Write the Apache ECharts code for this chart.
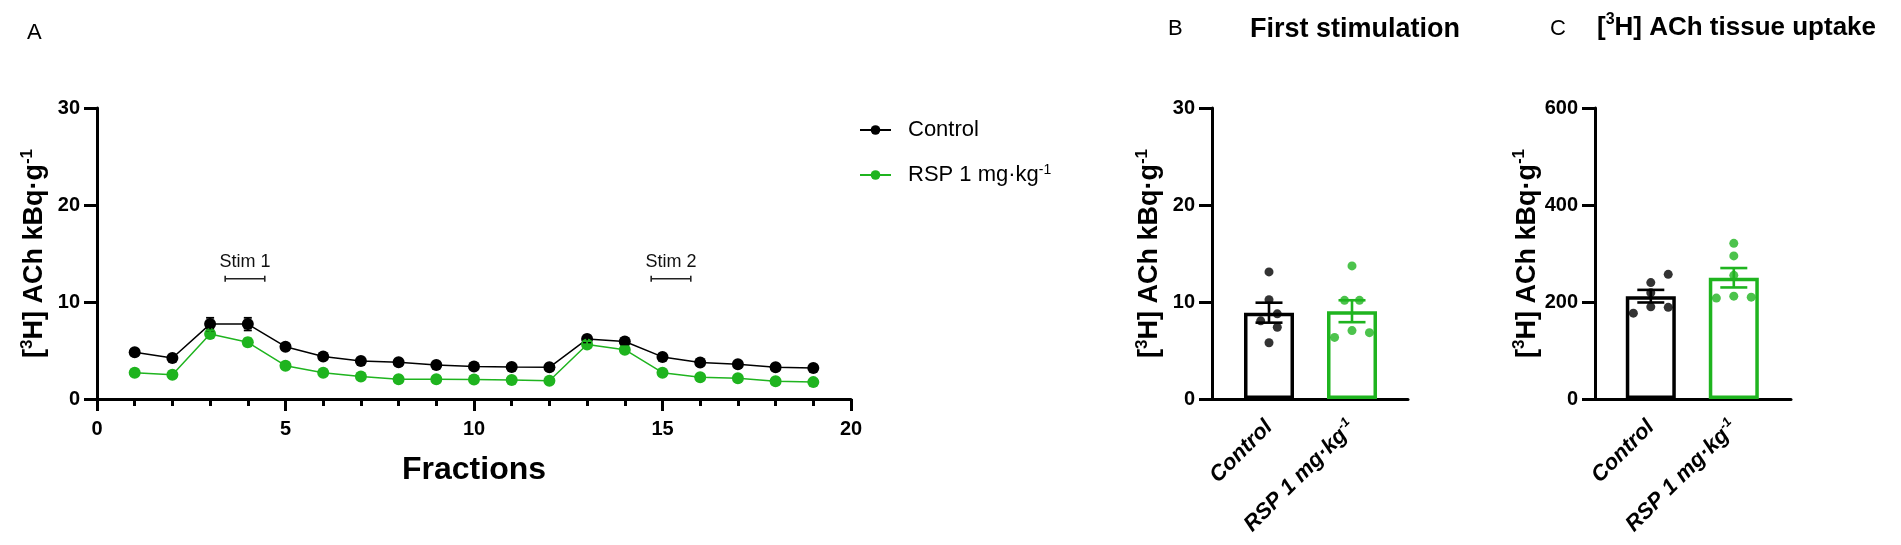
<!DOCTYPE html>
<html>
<head>
<meta charset="utf-8">
<script src="https://cdn.jsdelivr.net/npm/echarts@6/dist/echarts.min.js"></script>
<style>
html,body{margin:0;padding:0;background:#fff;}
#chart{width:1901px;height:545px;}
</style>
</head>
<body>
<div id="chart"></div>
<script>
// ---------- DATA ----------
var fractions = [1,2,3,4,5,6,7,8,9,10,11,12,13,14,15,16,17,18,19];
var controlA = [4.81,4.22,7.72,7.72,5.39,4.39,3.91,3.78,3.50,3.34,3.30,3.27,6.18,5.93,4.34,3.77,3.59,3.27,3.19];
var controlASem = [0.3,0.3,0.65,0.65,0.3,0.3,0.3,0.3,0.3,0.3,0.3,0.3,0.35,0.35,0.3,0.3,0.3,0.3,0.3];
var rspA = [2.71,2.51,6.69,5.84,3.43,2.71,2.33,2.03,2.03,2.02,1.95,1.88,5.62,5.08,2.71,2.24,2.13,1.84,1.74];
var rspASem = [0.3,0.3,0.4,0.4,0.3,0.3,0.3,0.3,0.3,0.3,0.3,0.3,0.35,0.35,0.3,0.3,0.3,0.3,0.3];
var stimStart = [3.4, 14.7];
var stimEnd = [4.45, 15.75];
var stimLevel = [12.4, 12.4];
var stimLabels = ['Stim 1', 'Stim 2'];
var xTicksA = {min:0, max:20, interval:5};
var yTicksA = {min:0, max:30, interval:10};
var groups = ['Control', 'RSP 1 mg·kg-1'];

// B: first stimulation
var bMean = [8.9, 9.05];
var bSem = [1.03, 1.13];
var bControlDots = [13.1, 10.24, 8.06, 8.78, 7.4, 5.8];
var bRspDots = [13.72, 10.17, 10.17, 6.35, 7.05, 6.84];
// C: tissue uptake
var cMean = [212, 250];
var cSem = [13, 20];
var cControlDots = [257, 240, 219, 177, 190, 189];
var cRspDots = [321, 295, 255, 208, 212, 210];
var yTicksC = {min:0, max:600, interval:200};

// horizontal arrangement of the dots inside each bar (category-band units)
var bControlSpread = [0, 0, -0.1, 0.1, 0.1, 0];
var bRspSpread = [0, -0.09, 0.09, -0.21, 0, 0.21];
var cControlSpread = [0.21, 0, 0, -0.21, 0, 0.21];
var cRspSpread = [0, 0, 0, -0.21, 0, 0.21];

// ---------- STYLE ----------
var FONT = 'Liberation Sans, Arial, Helvetica, sans-serif';
var BLACK = '#000000';
var GREEN = '#1fb41f';
var groupColors = [BLACK, GREEN];

var sup = {
  t:{fontSize:27, fontWeight:'bold', fontFamily:FONT, color:BLACK, lineHeight:32},
  s:{fontSize:17, fontWeight:'bold', fontFamily:FONT, color:BLACK, verticalAlign:'top', lineHeight:17}
};
var supTitle = {
  t:{fontSize:26, fontWeight:'bold', fontFamily:FONT, color:BLACK, lineHeight:31},
  s:{fontSize:16, fontWeight:'bold', fontFamily:FONT, color:BLACK, verticalAlign:'top', lineHeight:16}
};
var yName = '{t|[}{s|3}{t|H] ACh kBq·g}{s|-1}';

function catLabel(v){
  if (v.indexOf('-1') > 0) return '{t|' + v.replace('-1','') + '}{s|-1}';
  return '{t|' + v + '}';
}

var chart = echarts.init(document.getElementById('chart'), null, {renderer:'canvas'});

function valueYAxis(grid, ticks, showName){
  return {
    type:'value', gridIndex:grid, min:ticks.min, max:ticks.max, interval:ticks.interval,
    axisLine:{show:true, lineStyle:{color:BLACK, width:3}},
    axisTick:{show:true, length:13, lineStyle:{color:BLACK, width:3}},
    axisLabel:{show:true, margin:17, fontSize:20, fontWeight:'bold', fontFamily:FONT, color:BLACK},
    splitLine:{show:false},
    name: showName ? yName : '', nameLocation:'middle', nameGap:46, nameRotate:90,
    nameTextStyle:{rich:sup}
  };
}
function hiddenYAxis(grid, ticks){
  return {type:'value', gridIndex:grid, min:ticks.min, max:ticks.max, show:false};
}
function frameXAxis(grid){
  return {type:'value', gridIndex:grid, min:0, max:1, axisLine:{show:true, onZero:false, lineStyle:{color:BLACK, width:3}},
          axisTick:{show:false}, axisLabel:{show:false}, splitLine:{show:false}};
}
function catXAxis(grid){
  return {type:'category', gridIndex:grid, data:groups,
    axisLine:{show:false}, axisTick:{show:false}, splitLine:{show:false},
    axisLabel:{rotate:45, margin:25, interval:0, formatter:catLabel,
      rich:{
        t:{fontSize:22, fontWeight:'bold', fontStyle:'italic', fontFamily:FONT, color:BLACK, lineHeight:25},
        s:{fontSize:13, fontWeight:'bold', fontStyle:'italic', fontFamily:FONT, color:BLACK, verticalAlign:'top', lineHeight:13}
      }}
  };
}
function dotXAxis(grid){
  return {type:'value', gridIndex:grid, min:-0.5, max:1.5, show:false};
}

function errRender(cap, lw){
  return function(params, api){
    var x = api.value(0), y = api.value(1), e = api.value(2);
    var top = api.coord([x, y + e]);
    var bot = api.coord([x, y - e]);
    var c = api.visual('color');
    var st = {stroke:c, lineWidth:lw};
    return {type:'group', children:[
      {type:'line', shape:{x1:top[0], y1:top[1], x2:bot[0], y2:bot[1]}, style:st},
      {type:'line', shape:{x1:top[0]-cap/2, y1:top[1], x2:top[0]+cap/2, y2:top[1]}, style:st},
      {type:'line', shape:{x1:bot[0]-cap/2, y1:bot[1], x2:bot[0]+cap/2, y2:bot[1]}, style:st}
    ]};
  };
}

function dots(values, spread, idx){
  return values.map(function(v,i){ return {value:[idx + spread[i], v], itemStyle:{color:groupColors[idx]}}; });
}

var stimData = stimStart.map(function(s,i){ return [s, stimEnd[i], stimLevel[i], i]; });

var option = {
  animation:false,
  backgroundColor:'#ffffff',
  textStyle:{fontFamily:FONT},
  title:[
    {text:'A', left:22, top:17, textStyle:{fontSize:22, fontWeight:'normal', color:BLACK, fontFamily:FONT}},
    {text:'B', left:1163, top:13, textStyle:{fontSize:22, fontWeight:'normal', color:BLACK, fontFamily:FONT}},
    {text:'First stimulation', left:1245, top:11, textStyle:{fontSize:27, fontWeight:'bold', color:BLACK, fontFamily:FONT}},
    {text:'C', left:1545, top:13, textStyle:{fontSize:22, fontWeight:'normal', color:BLACK, fontFamily:FONT}},
    {text:'{t|[}{s|3}{t|H] ACh tissue uptake}', left:1592, top:7, textStyle:{rich:supTitle}}
  ],
  legend:{
    show:true, orient:'vertical', left:854, top:114, itemWidth:31, itemHeight:12, itemGap:22,
    data:['Control','RSP 1 mg·kg-1'],
    formatter:function(n){ return n.indexOf('-1')>0 ? '{t|RSP 1 mg·kg}{s|-1}' : '{t|Control}'; },
    textStyle:{padding:[0,0,0,12], rich:{
      t:{fontSize:22, fontFamily:FONT, color:BLACK, lineHeight:24},
      s:{fontSize:14, fontFamily:FONT, color:BLACK, verticalAlign:'top', lineHeight:14}
    }}
  },
  grid:[
    {left:97, top:108, width:754, height:291},
    {left:1212, top:108, width:196, height:291},
    {left:1227.5, top:108, width:166, height:291},
    {left:1595, top:108, width:196, height:291},
    {left:1609.3, top:108, width:166, height:291}
  ],
  xAxis:[
    {type:'value', gridIndex:0, min:xTicksA.min, max:xTicksA.max, interval:xTicksA.interval,
      axisLine:{show:true, onZero:false, lineStyle:{color:BLACK, width:3}},
      axisTick:{show:true, length:12, lineStyle:{color:BLACK, width:3}},
      minorTick:{show:true, splitNumber:5, length:7, lineStyle:{color:BLACK, width:3}},
      axisLabel:{margin:20, fontSize:20, fontWeight:'bold', fontFamily:FONT, color:BLACK},
      splitLine:{show:false},
      name:'Fractions', nameLocation:'middle', nameGap:55,
      nameTextStyle:{fontSize:32, fontWeight:'bold', fontFamily:FONT, color:BLACK}},
    frameXAxis(1),
    catXAxis(2),
    dotXAxis(2),
    frameXAxis(3),
    catXAxis(4),
    dotXAxis(4)
  ],
  yAxis:[
    valueYAxis(0, yTicksA, true),
    valueYAxis(1, yTicksA, true),
    hiddenYAxis(2, yTicksA),
    valueYAxis(3, yTicksC, true),
    hiddenYAxis(4, yTicksC)
  ],
  series:[
    {name:'Control', type:'line', xAxisIndex:0, yAxisIndex:0, z:3,
      data:fractions.map(function(f,i){return [f, controlA[i]];}),
      symbol:'circle', symbolSize:12, itemStyle:{color:BLACK}, lineStyle:{color:BLACK, width:1.5}},
    {name:'RSP 1 mg·kg-1', type:'line', xAxisIndex:0, yAxisIndex:0, z:3,
      data:fractions.map(function(f,i){return [f, rspA[i]];}),
      symbol:'circle', symbolSize:12, itemStyle:{color:GREEN}, lineStyle:{color:GREEN, width:1.5}},
    {name:'errA', type:'custom', xAxisIndex:0, yAxisIndex:0, z:4,
      renderItem:errRender(8, 1.8),
      data:fractions.map(function(f,i){return {value:[f, controlA[i], controlASem[i]], itemStyle:{color:BLACK}};})
        .concat(fractions.map(function(f,i){return {value:[f, rspA[i], rspASem[i]], itemStyle:{color:GREEN}};}))},
    {name:'stim', type:'custom', xAxisIndex:0, yAxisIndex:0, z:5,
      renderItem:function(params, api){
        var p1 = api.coord([api.value(0), api.value(2)]);
        var p2 = api.coord([api.value(1), api.value(2)]);
        var st = {stroke:'#222', lineWidth:1.6};
        return {type:'group', children:[
          {type:'line', shape:{x1:p1[0], y1:p1[1], x2:p2[0], y2:p2[1]}, style:st},
          {type:'line', shape:{x1:p1[0], y1:p1[1]-3, x2:p1[0], y2:p1[1]+3}, style:st},
          {type:'line', shape:{x1:p2[0], y1:p2[1]-3, x2:p2[0], y2:p2[1]+3}, style:st},
          {type:'text', style:{x:(p1[0]+p2[0])/2, y:p1[1]-17, text:stimLabels[api.value(3)],
            fill:'#111', fontSize:18, fontFamily:FONT, align:'center', verticalAlign:'middle'}}
        ]};
      },
      data:stimData},
    // B
    {name:'barB', type:'bar', xAxisIndex:2, yAxisIndex:2, barWidth:50, z:2,
      data:bMean.map(function(v,i){return {value:v, itemStyle:{color:'rgba(255,255,255,0)', borderColor:groupColors[i], borderWidth:3.5}};})},
    {name:'dotsB', type:'scatter', xAxisIndex:3, yAxisIndex:2, symbolSize:9, z:3,
      data:dots(bControlDots, bControlSpread, 0).concat(dots(bRspDots, bRspSpread, 1))},
    {name:'errB', type:'custom', xAxisIndex:3, yAxisIndex:2, z:4, renderItem:errRender(27, 2.6),
      data:bMean.map(function(v,i){return {value:[i, v, bSem[i]], itemStyle:{color:groupColors[i]}};})},
    // C
    {name:'barC', type:'bar', xAxisIndex:5, yAxisIndex:4, barWidth:50, z:2,
      data:cMean.map(function(v,i){return {value:v, itemStyle:{color:'rgba(255,255,255,0)', borderColor:groupColors[i], borderWidth:3.5}};})},
    {name:'dotsC', type:'scatter', xAxisIndex:6, yAxisIndex:4, symbolSize:9, z:3,
      data:dots(cControlDots, cControlSpread, 0).concat(dots(cRspDots, cRspSpread, 1))},
    {name:'errC', type:'custom', xAxisIndex:6, yAxisIndex:4, z:4, renderItem:errRender(27, 2.6),
      data:cMean.map(function(v,i){return {value:[i, v, cSem[i]], itemStyle:{color:groupColors[i]}};})}
  ]
};
chart.setOption(option);
</script>
</body>
</html>
